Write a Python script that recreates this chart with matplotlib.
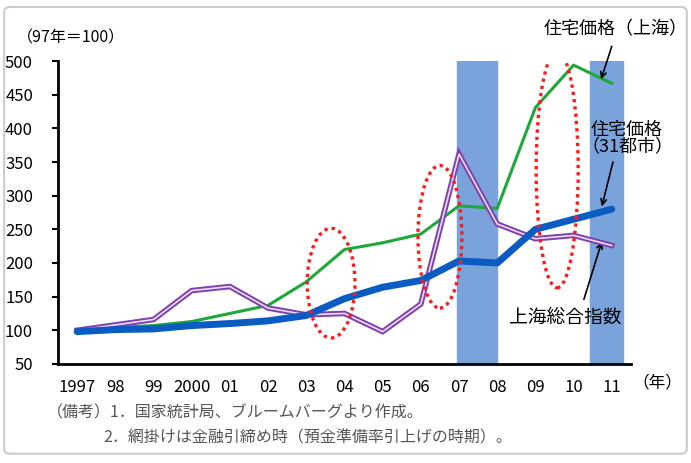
import numpy as np
import matplotlib.pyplot as plt
from matplotlib.patches import Ellipse, FancyBboxPatch

plt.rcParams['font.family'] = ['Noto Sans CJK JP', 'DejaVu Sans']

years = ['1997', '98', '99', '2000', '01', '02', '03', '04', '05', '06', '07', '08', '09', '10', '11']
# 住宅価格（上海）
shanghai_house = [100, 104, 107, 113, 125, 137, 172, 220, 230, 243, 285, 281, 431, 494, 467]
# 住宅価格（31都市）
city31_house = [98, 101, 102, 107, 110, 114, 122, 147, 164, 174, 203, 200, 250, 265, 280]
# 上海総合指数
sh_index = [100, 108, 116, 159, 165, 133, 123, 125, 98, 139, 362, 258, 236, 241, 226]

# 金融引締め時 (start, end on year index)
tight_periods = [(9.95, 11.0), (13.43, 14.3)]
# red dotted ellipses: (center x, center y, width, height)
ellipses = [(6.65, 170, 1.25, 163), (9.5, 239, 1.15, 212), (12.57, 339, 1.1, 352)]

fig = plt.figure(figsize=(6.91, 4.63), dpi=100)
ax = fig.add_axes([0.084, 0.214, 0.829, 0.654])

x = np.arange(len(years))
for s, e in tight_periods:
    ax.axvspan(s, e, ymin=0, ymax=1, color='#7aa3dc', zorder=1)

ax.plot(x, shanghai_house, color='#1fa83a', lw=2.2, zorder=3)
ax.plot(x, sh_index, color='#8040b0', lw=4.0, zorder=4, solid_joinstyle='miter')
ax.plot(x, sh_index, color='#e8dcf4', lw=1.2, zorder=5, solid_joinstyle='miter')
ax.plot(x, city31_house, color='#0a5cc2', lw=5, zorder=6, solid_capstyle='round')

for cx, cy, w, h in ellipses:
    ax.add_patch(Ellipse((cx, cy), w, h, fill=False, edgecolor='#ff1a1a',
                         ls=(0, (1, 1.2)), lw=2.4, zorder=7))

ax.set_xlim(-0.5, 14.5)
ax.set_ylim(50, 500)
ax.set_yticks(np.arange(50, 501, 50))
ax.set_xticks(x)
ax.set_xticklabels(years)
ax.tick_params(axis='x', length=0, pad=11, labelsize=12)
ax.tick_params(axis='y', length=4, width=1.5, direction='out', labelsize=12, pad=14)
ax.spines['top'].set_visible(False)
ax.spines['right'].set_visible(False)
ax.spines['left'].set_linewidth(2)
ax.spines['bottom'].set_linewidth(2)

arrow = dict(arrowstyle='->', color='black', lw=1.2, shrinkA=0, shrinkB=0)
ax.text(14.1, 548, '住宅価格（上海）', fontsize=13, ha='center', va='center', clip_on=False)
ax.annotate('', xy=(13.72, 473), xytext=(14.0, 522), arrowprops=arrow, annotation_clip=False)
ax.text(14.4, 385, '住宅価格\n（31都市）', fontsize=13, ha='center', va='center', linespacing=1.0)
ax.annotate('', xy=(13.74, 284), xytext=(14.03, 350), arrowprops=arrow)
ax.text(12.78, 120, '上海総合指数', fontsize=13.5, ha='center', va='center')
ax.annotate('', xy=(13.74, 232), xytext=(13.27, 146), arrowprops=arrow)

fig.text(0.025, 0.918, '（97年＝100）', fontsize=11.5, ha='left', va='center')
fig.text(0.915, 0.172, '（年）', fontsize=12, ha='left', va='center')
fig.text(0.068, 0.108, '（備考）1．国家統計局、ブルームバーグより作成。', fontsize=11.5,
         color='#555555', ha='left', va='center')
fig.text(0.150, 0.055, '2．網掛けは金融引締め時（預金準備率引上げの時期）。', fontsize=11.5,
         color='#555555', ha='left', va='center')

fig.patches.append(FancyBboxPatch((0.006, 0.02), 0.988, 0.965, boxstyle='round,pad=0,rounding_size=0.01',
                                  transform=fig.transFigure, fill=False, edgecolor='#cccccc', lw=1.5))

fig.savefig('out.png', dpi=100)
